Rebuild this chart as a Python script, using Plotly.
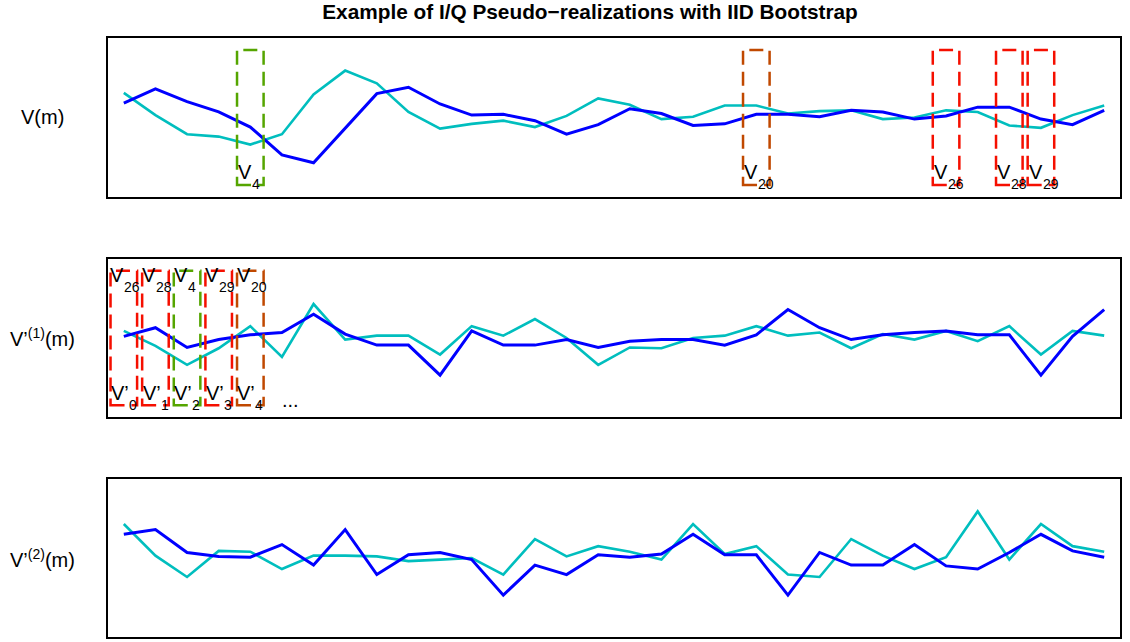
import plotly.graph_objects as go

# Sample index m = 0..31
m = list(range(32))

# Original realization: in-phase (blue) and quadrature (cyan) components
v_i = [0.18, 0.36, 0.20, 0.07, -0.12, -0.47, -0.57, -0.14, 0.30, 0.38,
       0.17, 0.03, 0.04, -0.04, -0.21, -0.09, 0.11, 0.05, -0.10, -0.08,
       0.04, 0.04, 0.01, 0.09, 0.07, -0.02, 0.02, 0.13, 0.13, -0.02,
       -0.09, 0.09]
v_q = [0.31, 0.03, -0.21, -0.24, -0.34, -0.21, 0.29, 0.59, 0.43, 0.07,
       -0.14, -0.08, -0.04, -0.12, 0.02, 0.24, 0.16, -0.02, 0.01, 0.15,
       0.15, 0.05, 0.08, 0.09, -0.02, 0.00, 0.09, 0.07, -0.10, -0.13,
       0.03, 0.15]

# IID bootstrap draws (indices into the original realization)
boot_1 = [26, 28, 4, 29, 20, 3, 8, 17, 30, 30, 5, 31, 30, 15, 25, 4,
          13, 29, 25, 30, 20, 1, 27, 29, 21, 24, 23, 12, 20, 5, 26, 1]
boot_2 = [8, 1, 3, 26, 22, 10, 30, 1, 14, 12, 24, 25, 5, 15, 14, 20,
          22, 17, 8, 21, 20, 5, 3, 15, 30, 10, 18, 7, 24, 8, 31, 22]

# Highlighted samples and their frame colours
marked = [4, 20, 26, 28, 29]
RED = "rgb(245,15,0)"
mark_color = {4: "rgb(85,165,0)", 20: "rgb(192,72,0)",
              26: RED, 28: RED, 29: RED}

row_labels = ["V(m)", "V’<sup>(1)</sup>(m)", "V’<sup>(2)</sup>(m)"]

W, H = 1130, 642
x0_px, x1_px = 108, 1120
rows_px = [(38, 197), (259, 417), (479, 637)]
PX_X = (x1_px - x0_px) / 32.0      # pixels per sample
PX_Y = 159 / 2.0                   # pixels per unit amplitude

FONT = "Liberation Sans, Arial, Helvetica, sans-serif"
BLUE = "rgb(0,0,255)"
CYAN = "rgb(0,190,190)"
MAIN_SIZE = 20
SUB_SIZE = 14

series = [
    (v_i, v_q),
    ([v_i[k] for k in boot_1], [v_q[k] for k in boot_1]),
    ([v_i[k] for k in boot_2], [v_q[k] for k in boot_2]),
]

fig = go.Figure()
layout = {}
for r, ((top, bot), (yi, yq)) in enumerate(zip(rows_px, series)):
    n = "" if r == 0 else str(r + 1)
    xa, ya = "x" + n, "y" + n
    fig.add_trace(go.Scatter(x=m, y=yq, mode="lines", xaxis=xa, yaxis=ya,
                             line=dict(color=CYAN, width=2.6), showlegend=False))
    fig.add_trace(go.Scatter(x=m, y=yi, mode="lines", xaxis=xa, yaxis=ya,
                             line=dict(color=BLUE, width=3), showlegend=False))
    axis_common = dict(showticklabels=False, showgrid=False, zeroline=False,
                       ticks="", showline=True, mirror=True,
                       linecolor="black", linewidth=1.5, fixedrange=True)
    layout["xaxis" + n] = dict(axis_common, range=[-0.5, 31.5],
                               domain=[x0_px / W, x1_px / W], anchor=ya)
    layout["yaxis" + n] = dict(axis_common, range=[-1, 1],
                               domain=[1 - bot / H, 1 - top / H], anchor=xa)
    # row label on the left
    fig.add_annotation(xref="paper", yref="paper", x=42 / W,
                       y=1 - (top + bot) / 2 / H, text=row_labels[r],
                       showarrow=False, xanchor="center", yanchor="middle",
                       font=dict(size=MAIN_SIZE, color="black", family=FONT))

shapes = []
HALF_W = 0.42
BOX_H = 0.85
DASH = "14px,7px"


def add_box(xa, ya, cx, color):
    shapes.append(dict(type="rect", xref=xa, yref=ya,
                       x0=cx - HALF_W, x1=cx + HALF_W, y0=-BOX_H, y1=BOX_H,
                       line=dict(color=color, width=2.5, dash=DASH),
                       fillcolor="rgba(0,0,0,0)", layer="above"))


def add_text(xa, ya, x, y, text, size):
    fig.add_annotation(xref=xa, yref=ya, x=x, y=y, text=text, showarrow=False,
                       xanchor="left", yanchor="middle", borderpad=0,
                       font=dict(size=size, color="black", family=FONT))


def add_label(xa, ya, x, y, base, sub):
    # base letter plus a lowered, smaller index
    add_text(xa, ya, x, y, base, MAIN_SIZE)
    shift_x = (18 if "’" in base else 14) / PX_X
    add_text(xa, ya, x + shift_x, y - 12 / PX_Y, str(sub), SUB_SIZE)


# Top row: frames around the samples that get drawn
for k in marked:
    add_box("x", "y", k, mark_color[k])
    add_label("x", "y", k - HALF_W, -0.69, "V", k)

# Middle row: first few bootstrap positions and their source samples
for j, k in enumerate(boot_1[:5]):
    add_box("x2", "y2", j, mark_color[k])
    add_label("x2", "y2", j - HALF_W - 0.04, 0.80, "V", k)
    add_label("x2", "y2", j - HALF_W - 0.02, -0.70, "V’", j)
add_text("x2", "y2", 4.98, -0.79, "...", MAIN_SIZE)

layout["shapes"] = shapes
fig.update_layout(
    width=W, height=H, margin=dict(l=0, r=0, t=0, b=0),
    paper_bgcolor="white", plot_bgcolor="white",
    title=dict(text="<b>Example of I/Q Pseudo−realizations with IID Bootstrap</b>",
               x=590 / W, xanchor="center", y=1 - 12 / H, yanchor="middle",
               font=dict(size=20.8, color="black", family=FONT)),
    **layout,
)

fig.write_html("out.html")
